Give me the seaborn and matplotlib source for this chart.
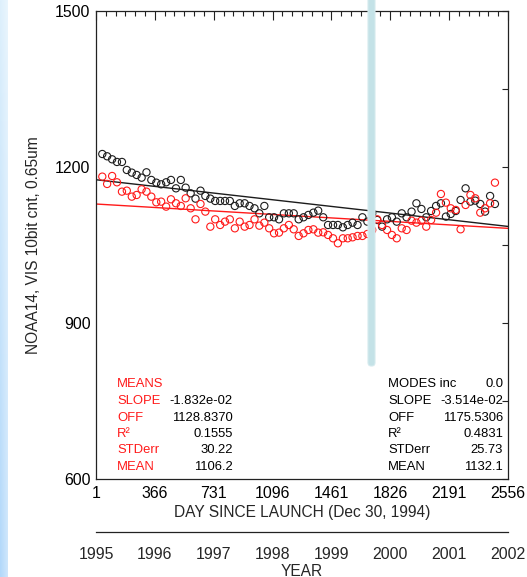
import numpy as np
import pandas as pd
import matplotlib
matplotlib.use("Agg")
import matplotlib.pyplot as plt
import seaborn as sns
from matplotlib.patches import FancyBboxPatch

# ---- data: monthly VIS counts (day since launch) ----
days = [40, 70, 101, 131, 162, 192, 223, 253, 284, 314,
        344, 375, 405, 436, 466, 497, 527, 557, 588, 618,
        649, 679, 710, 740, 771, 801, 831, 862, 892, 923,
        953, 984, 1014, 1045, 1075, 1105, 1136, 1166, 1197, 1227,
        1258, 1288, 1318, 1349, 1379, 1410, 1440, 1471, 1501, 1532,
        1562, 1592, 1623, 1653, 1684, 1714, 1745, 1775, 1806, 1836,
        1866, 1897, 1927, 1958, 1988, 2019, 2049, 2079, 2110, 2140,
        2171, 2201, 2232, 2262, 2293, 2323, 2353, 2384, 2414, 2445, 2475]

modes = [1225.0, 1220.6, 1214.8, 1209.7, 1209.7, 1194.3, 1189.2, 1184.7, 1179.5, 1189.8,
         1175.1, 1169.9, 1166.7, 1170.6, 1175.1, 1159.0, 1175.1, 1160.3, 1149.4, 1139.2,
         1154.5, 1144.3, 1139.2, 1134.7, 1134.7, 1134.7, 1134.7, 1125.1, 1130.2, 1130.2,
         1125.1, 1120.6, 1110.9, 1125.1, 1103.3, 1103.3, 1099.4, 1110.9, 1110.9, 1110.9,
         1099.4, 1103.3, 1107.8, 1112.2, 1116.1, 1103.3, 1088.5, 1088.5, 1088.5, 1084.0,
         1088.5, 1093.0, 1088.5, 1103.3, 1094.9, 1110.9, 1098.1, 1085.3, 1099.4, 1103.3,
         1094.9, 1110.9, 1103.3, 1114.2, 1130.2, 1119.3, 1103.3, 1115.4, 1125.1, 1130.2,
         1104.6, 1109.7, 1115.4, 1136.6, 1159.0, 1133.4, 1135.3, 1128.9, 1114.2, 1144.3, 1128.9]

means = [1181.5, 1167.4, 1182.7, 1170.6, 1152.6, 1154.5, 1143.0, 1146.2, 1157.1, 1152.6,
         1143.0, 1132.1, 1133.4, 1123.8, 1137.9, 1130.2, 1125.1, 1139.8, 1120.6, 1099.4,
         1128.9, 1114.2, 1085.3, 1099.4, 1088.5, 1094.9, 1099.4, 1082.1, 1094.9, 1085.3,
         1088.5, 1099.4, 1087.2, 1093.0, 1082.1, 1072.5, 1073.8, 1082.1, 1088.5, 1080.2,
         1067.4, 1072.5, 1078.9, 1080.2, 1073.8, 1074.4, 1069.3, 1062.9, 1053.3, 1062.9,
         1062.9, 1064.8, 1067.4, 1067.4, 1071.2, 1078.9, 1099.4, 1088.5, 1078.9, 1069.3,
         1062.9, 1082.1, 1078.9, 1096.8, 1093.0, 1096.8, 1085.3, 1098.1, 1112.2, 1148.1,
         1131.5, 1120.6, 1117.4, 1080.2, 1127.0, 1146.2, 1139.8, 1112.2, 1120.6, 1130.2, 1169.9]

# regression statistics
means_stats = {"SLOPE": -1.832e-02, "OFF": 1128.8370, "R2": 0.1555, "STDerr": 30.22, "MEAN": 1106.2}
modes_stats = {"INC": 0.0, "SLOPE": -3.514e-02, "OFF": 1175.5306, "R2": 0.4831, "STDerr": 25.73, "MEAN": 1132.1}

day_ticks = [1, 366, 731, 1096, 1461, 1826, 2191, 2556]
year_ticks = [1995, 1996, 1997, 1998, 1999, 2000, 2001, 2002]
count_ticks = [600, 900, 1200, 1500]

# ---- figure ----
sns.set_theme(style="white")
plt.rcParams["font.family"] = ["Liberation Sans", "DejaVu Sans"]
plt.rcParams["axes.linewidth"] = 0.9

W, H = 527, 577
fig = plt.figure(figsize=(W / 100, H / 100), dpi=100)
fig.patch.set_facecolor("white")


def fx(x):
    return x / W


def fy(y):
    return 1 - y / H


# left-edge tint strip
strip = fig.add_axes([0, 0, 8 / W, 1])
g_top = np.array([222, 240, 252]) / 255
g_bot = np.array([178, 216, 250]) / 255
rows = np.linspace(0, 1, 200)[:, None, None]
cols = np.linspace(0, 1, 8)[None, :, None]
grad = g_top * (1 - rows) + g_bot * rows
grad = grad * (1 - 0.35 * cols) + 0.35 * cols * np.ones(3)
strip.imshow(np.clip(grad, 0, 1), aspect="auto", extent=[0, 1, 0, 1])
strip.set_axis_off()

ax = fig.add_axes([fx(96), fy(479), fx(412), 468 / H])
ax.set_facecolor("white")

black = "#1c1c1c"
red = "#ff1a1a"

sns.scatterplot(x=days, y=modes, ax=ax, marker="o", s=27, facecolor="none",
                edgecolor=black, linewidth=0.8, zorder=3)
sns.scatterplot(x=days, y=means, ax=ax, marker="o", s=27, facecolor="none",
                edgecolor=red, linewidth=0.8, zorder=3)

# fitted trend lines
xfit = np.array([day_ticks[0], day_ticks[-1]])
sns.lineplot(x=xfit, y=modes_stats["OFF"] + modes_stats["SLOPE"] * xfit, ax=ax,
             color=black, linewidth=1.0, zorder=2)
sns.lineplot(x=xfit, y=means_stats["OFF"] + means_stats["SLOPE"] * xfit, ax=ax,
             color=red, linewidth=1.0, zorder=2)

ax.set_xlim(day_ticks[0], day_ticks[-1])
ax.set_ylim(count_ticks[0], count_ticks[-1])
ax.set_xticks(day_ticks)
ax.set_xticklabels([str(d) for d in day_ticks])
ax.set_xticks(np.arange(day_ticks[0], day_ticks[-1] + 1, 365 / 6), minor=True)
ax.set_yticks(count_ticks)
ax.set_yticklabels([str(v) for v in count_ticks])
ax.set_yticks([750, 1050, 1350], minor=True)

for s in ax.spines.values():
    s.set_color("#222222")
    s.set_linewidth(0.9)

ax.tick_params(axis="both", which="both", direction="in", top=True, right=True,
               color="#222222", width=0.8, labelsize=11.4, labelcolor="black")
ax.tick_params(axis="x", which="major", length=6.5, pad=5)
ax.tick_params(axis="x", which="minor", length=3.5)
ax.tick_params(axis="y", which="both", length=4.5, pad=4)

ax.set_xlabel("DAY SINCE LAUNCH (Dec 30, 1994)", fontsize=11.2)
ax.xaxis.set_label_coords(0.5, (479 - 513) / 468)
ax.xaxis.label.set_va("center")
ax.set_ylabel("NOAA14, VIS 10bit cnt, 0.65um", fontsize=11.2)
ax.yaxis.set_label_coords((33 - 96) / 412, 0.5)
ax.yaxis.label.set_va("center")
ax.grid(False)

# statistics panels
fs = 9.4
lines_y = [384, 401, 418, 434, 450, 467]
left_names = ["MEANS", "SLOPE", "OFF", "R\u00b2", "STDerr", "MEAN"]
left_vals = ["", f"{means_stats['SLOPE']:.3e}", f"{means_stats['OFF']:.4f}",
             f"{means_stats['R2']:.4f}", f"{means_stats['STDerr']:.2f}", f"{means_stats['MEAN']:.1f}"]
for name, val, y in zip(left_names, left_vals, lines_y):
    fig.text(fx(117), fy(y), name, color="#ff1a1a", fontsize=fs, ha="left", va="center")
    if val:
        fig.text(fx(233), fy(y), val, color="black", fontsize=fs, ha="right", va="center")

right_names = ["MODES inc", "SLOPE", "OFF", "R\u00b2", "STDerr", "MEAN"]
right_vals = [f"{modes_stats['INC']:.1f}", f"{modes_stats['SLOPE']:.3e}", f"{modes_stats['OFF']:.4f}",
              f"{modes_stats['R2']:.4f}", f"{modes_stats['STDerr']:.2f}", f"{modes_stats['MEAN']:.1f}"]
for name, val, y in zip(right_names, right_vals, lines_y):
    fig.text(fx(388), fy(y), name, color="black", fontsize=fs, ha="left", va="center")
    fig.text(fx(503), fy(y), val, color="black", fontsize=fs, ha="right", va="center")

# calendar-year axis underneath
ax2 = fig.add_axes([fx(96), fy(532), fx(412), 1 / H])
ax2.set_facecolor("none")
for side in ["top", "left", "right"]:
    ax2.spines[side].set_visible(False)
ax2.spines["bottom"].set_color("#222222")
ax2.spines["bottom"].set_linewidth(0.9)
ax2.set_xlim(year_ticks[0], year_ticks[-1])
ax2.set_xticks(year_ticks)
ax2.set_xticklabels([str(y) for y in year_ticks])
ax2.set_yticks([])
ax2.tick_params(axis="x", which="major", direction="out", length=7, width=0.8,
                color="#222222", labelsize=11.4, pad=4)
ax2.set_xlabel("YEAR", fontsize=11.2)
ax2.xaxis.set_label_coords(0.5, -39)
ax2.xaxis.label.set_va("center")

# overlay bar
bar = FancyBboxPatch((fx(368), fy(366)), fx(7), 366 / H + 0.02,
                     boxstyle="round,pad=0,rounding_size=0.006",
                     transform=fig.transFigure, facecolor="#c4e2e7",
                     edgecolor="#d5eaee", linewidth=0.8, zorder=20)
fig.patches.append(bar)

fig.savefig("out.png", dpi=100)
